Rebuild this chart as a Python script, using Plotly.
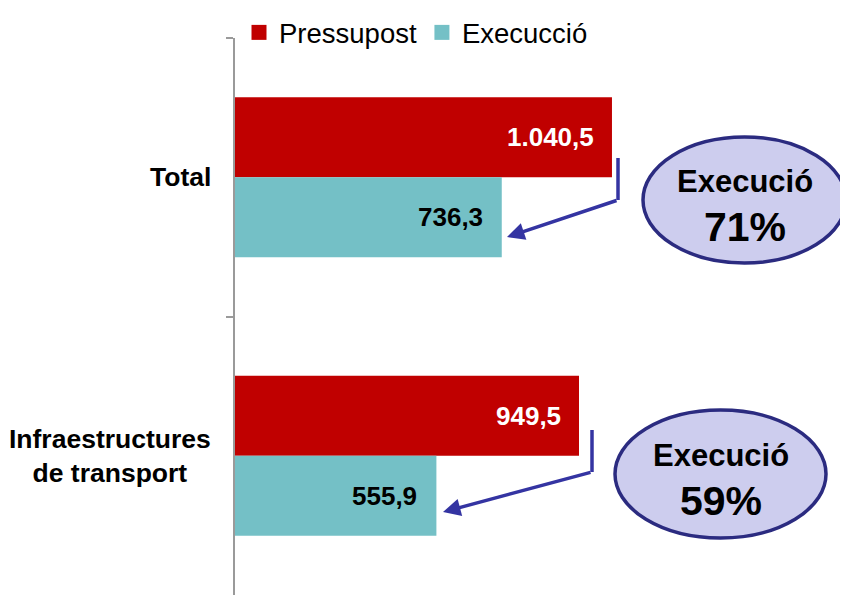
import plotly.graph_objects as go

categories = ["Total", "Infraestructures<br>de transport"]
pressupost = [1040.5, 949.5]
execucio = [736.3, 555.9]
percentatges = ["71%", "59%"]
noms_series = ["Pressupost", "Execucció"]

W, H = 848, 595
OFF = 8  # page body margin of the html
ML, MT = 235, 38  # plot area corner, in window pixels
PW, PH = W - ML, H - MT
FONT = "Arial, Liberation Sans, sans-serif"
RED = "#c00000"
TEAL = "#74c0c6"
NAVY = "#2b2b80"
ARROW = "#3434a2"


def px(x):
    return (x - ML) / PW


def py(y):
    return 1 - (y - MT) / PH


def fmt(v):
    # catalan style: 1.040,5
    return f"{v:,.1f}".replace(",", "X").replace(".", ",").replace("X", ".")


fig = go.Figure()
fig.add_trace(go.Bar(y=categories, x=pressupost, name=noms_series[0], orientation="h",
                     marker=dict(color=RED, line=dict(width=0)), showlegend=False))
fig.add_trace(go.Bar(y=categories, x=execucio, name=noms_series[1], orientation="h",
                     marker=dict(color=TEAL, line=dict(width=0)), showlegend=False))
# legend entries with bigger square swatches
for nom, col in zip(noms_series, [RED, TEAL]):
    fig.add_trace(go.Scatter(x=[None], y=[None], mode="markers", name=nom,
                             marker=dict(symbol="square", size=15, color=col)))

# value labels inside the bar ends
for cat, v in zip(categories, pressupost):
    fig.add_annotation(x=v, y=cat, xref="x", yref="y", text="<b>" + fmt(v) + "</b>",
                       showarrow=False, xanchor="right", xshift=-16, yshift=40,
                       font=dict(family=FONT, size=26, color="white"))
for cat, v in zip(categories, execucio):
    fig.add_annotation(x=v, y=cat, xref="x", yref="y", text="<b>" + fmt(v) + "</b>",
                       showarrow=False, xanchor="right", xshift=-17, yshift=-40,
                       font=dict(family=FONT, size=26, color="black"))

# category labels (centred lines)
for cat in categories:
    fig.add_annotation(x=0, y=cat, xref="paper", yref="y", text="<b>" + cat + "</b>",
                       showarrow=False, xanchor="right", xshift=-22, align="center",
                       font=dict(family=FONT, size=26.5, color="black"))

# ellipses with the execution share
ellipses = [(643, 137, 846, 263), (615, 410, 826, 538)]
for (x0, y0, x1, y1), pct in zip(ellipses, percentatges):
    fig.add_shape(type="circle", xref="paper", yref="paper",
                  x0=px(x0), x1=px(x1), y0=py(y1), y1=py(y0),
                  fillcolor="#cdcdee", line=dict(color=NAVY, width=3.5))
    cx = (x0 + x1) / 2
    cy = (y0 + y1) / 2
    fig.add_annotation(x=px(cx), y=py(cy - 19), xref="paper", yref="paper",
                       xanchor="center", yanchor="middle",
                       text="<b>Execució</b>", showarrow=False,
                       font=dict(family=FONT, size=31, color="black"))
    fig.add_annotation(x=px(cx), y=py(cy + 27), xref="paper", yref="paper",
                       xanchor="center", yanchor="middle",
                       text="<b>" + pct + "</b>", showarrow=False,
                       font=dict(family=FONT, size=41, color="black"))

# bent arrows
arrows = [(618, 158, 200, 507, 237), (592, 430, 472, 443, 512)]
for xv, ya, yb, hx, hy in arrows:
    fig.add_shape(type="line", xref="paper", yref="paper",
                  x0=px(xv), x1=px(xv), y0=py(ya), y1=py(yb),
                  line=dict(color=ARROW, width=3.5))
    fig.add_annotation(x=px(hx), y=py(hy), xref="paper", yref="paper",
                       ax=xv - hx, ay=yb - hy, text="", showarrow=True,
                       arrowhead=2, arrowsize=1, arrowwidth=3.5, arrowcolor=ARROW)

fig.update_layout(
    width=W, height=H,
    margin=dict(l=ML - OFF, r=OFF, t=MT - OFF, b=OFF, autoexpand=False),
    paper_bgcolor="white", plot_bgcolor="white",
    barmode="group", bargap=0.425, bargroupgap=0,
    font=dict(family=FONT, color="black"),
    legend=dict(orientation="h", x=px(416), y=1.0, yref="container", xanchor="center",
                yanchor="top", font=dict(family=FONT, size=27.5), itemwidth=30,
                traceorder="normal", tracegroupgap=0),
)
fig.update_xaxes(range=[0, 1692], visible=False)
fig.update_yaxes(autorange="reversed", showticklabels=False, showline=True, linecolor="#9a9a9a",
                 linewidth=2, ticks="outside", tickson="boundaries", ticklen=7,
                 tickcolor="#9a9a9a", tickwidth=2, showgrid=False, zeroline=False)

fig.write_html("out.html")
